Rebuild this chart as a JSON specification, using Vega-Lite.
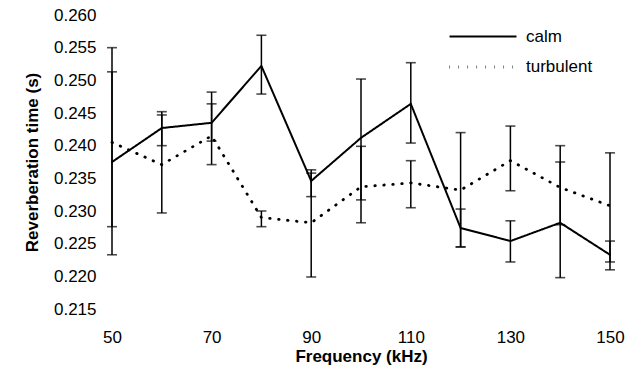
{
  "$schema": "https://vega.github.io/schema/vega-lite/v6.json",
  "autosize": {"type": "none"},
  "width": 498,
  "height": 294,
  "padding": {"left": 112, "top": 15, "right": 17, "bottom": 67},
  "background": "white",
  "config": {
    "view": {"stroke": null},
    "font": "Liberation Sans",
    "axis": {
      "domain": false,
      "ticks": false,
      "grid": false,
      "labelFontSize": 17,
      "labelColor": "black",
      "labelOverlap": false,
      "labelFlush": false,
      "titleFontSize": 17,
      "titleFontWeight": "bold",
      "titleColor": "black"
    }
  },
  "data": {
    "values": [
      {"freq": 50, "condition": "calm", "value": 0.2375, "lo": 0.2233, "hi": 0.2513},
      {"freq": 60, "condition": "calm", "value": 0.2427, "lo": 0.2400, "hi": 0.2452},
      {"freq": 70, "condition": "calm", "value": 0.2435, "lo": 0.2407, "hi": 0.2482},
      {"freq": 80, "condition": "calm", "value": 0.2522, "lo": 0.2479, "hi": 0.2569},
      {"freq": 90, "condition": "calm", "value": 0.2346, "lo": 0.2322, "hi": 0.2363},
      {"freq": 100, "condition": "calm", "value": 0.2412, "lo": 0.2317, "hi": 0.2502},
      {"freq": 110, "condition": "calm", "value": 0.2464, "lo": 0.2404, "hi": 0.2527},
      {"freq": 120, "condition": "calm", "value": 0.2274, "lo": 0.2245, "hi": 0.2303},
      {"freq": 130, "condition": "calm", "value": 0.2254, "lo": 0.2222, "hi": 0.2285},
      {"freq": 140, "condition": "calm", "value": 0.2282, "lo": 0.2198, "hi": 0.2375},
      {"freq": 150, "condition": "calm", "value": 0.2233, "lo": 0.2210, "hi": 0.2254},
      {"freq": 50, "condition": "turbulent", "value": 0.2405, "lo": 0.2276, "hi": 0.2550},
      {"freq": 60, "condition": "turbulent", "value": 0.2371, "lo": 0.2297, "hi": 0.2447},
      {"freq": 70, "condition": "turbulent", "value": 0.2415, "lo": 0.2371, "hi": 0.2464},
      {"freq": 80, "condition": "turbulent", "value": 0.2290, "lo": 0.2276, "hi": 0.2300},
      {"freq": 90, "condition": "turbulent", "value": 0.2282, "lo": 0.2199, "hi": 0.2358},
      {"freq": 100, "condition": "turbulent", "value": 0.2337, "lo": 0.2282, "hi": 0.2399},
      {"freq": 110, "condition": "turbulent", "value": 0.2343, "lo": 0.2305, "hi": 0.2377},
      {"freq": 120, "condition": "turbulent", "value": 0.2332, "lo": 0.2245, "hi": 0.2420},
      {"freq": 130, "condition": "turbulent", "value": 0.2377, "lo": 0.2331, "hi": 0.2430},
      {"freq": 140, "condition": "turbulent", "value": 0.2336, "lo": 0.2279, "hi": 0.2400},
      {"freq": 150, "condition": "turbulent", "value": 0.2308, "lo": 0.2222, "hi": 0.2389}
    ]
  },
  "encoding": {
    "x": {
      "field": "freq",
      "type": "quantitative",
      "scale": {"domain": [50, 150], "nice": false},
      "axis": {"values": [50, 70, 90, 110, 130, 150], "labelPadding": 20, "titlePadding": 3, "title": "Frequency (kHz)", "labelOverlap": false}
    },
    "y": {
      "type": "quantitative",
      "scale": {"domain": [0.215, 0.26], "nice": false, "zero": false},
      "title": "Reverberation time (s)",
      "axis": {"values": [0.215, 0.22, 0.225, 0.23, 0.235, 0.24, 0.245, 0.25, 0.255, 0.26], "format": ".3f", "labelPadding": 16, "titlePadding": 12, "labelOverlap": false}
    }
  },
  "layer": [
    {
      "mark": {"type": "rule", "color": "black", "strokeWidth": 1.5},
      "encoding": {
        "y": {"field": "lo"},
        "y2": {"field": "hi"}
      }
    },
    {
      "mark": {"type": "tick", "orient": "horizontal", "color": "black", "size": 10, "thickness": 1.6},
      "encoding": {"y": {"field": "lo"}}
    },
    {
      "mark": {"type": "tick", "orient": "horizontal", "color": "black", "size": 10, "thickness": 1.6},
      "encoding": {"y": {"field": "hi"}}
    },
    {
      "mark": {"type": "line", "color": "black", "strokeCap": "round"},
      "encoding": {
        "y": {"field": "value"},
        "strokeWidth": {
          "field": "condition",
          "type": "nominal",
          "scale": {"domain": ["calm", "turbulent"], "range": [2, 2.8]},
          "legend": null
        },
        "strokeDash": {
          "field": "condition",
          "type": "nominal",
          "scale": {"domain": ["calm", "turbulent"], "range": [[1, 0], [0.5, 8.5]]},
          "legend": {
            "orient": "none",
            "legendX": 361,
            "legendY": 12,
            "title": null,
            "symbolType": "M-4,0H4",
            "symbolSize": 280,
            "symbolStrokeWidth": 2.4,
            "symbolStrokeColor": "black",
            "labelFontSize": 17,
            "labelColor": "black",
            "labelOffset": 33,
            "rowPadding": 12
          }
        }
      }
    }
  ]
}
